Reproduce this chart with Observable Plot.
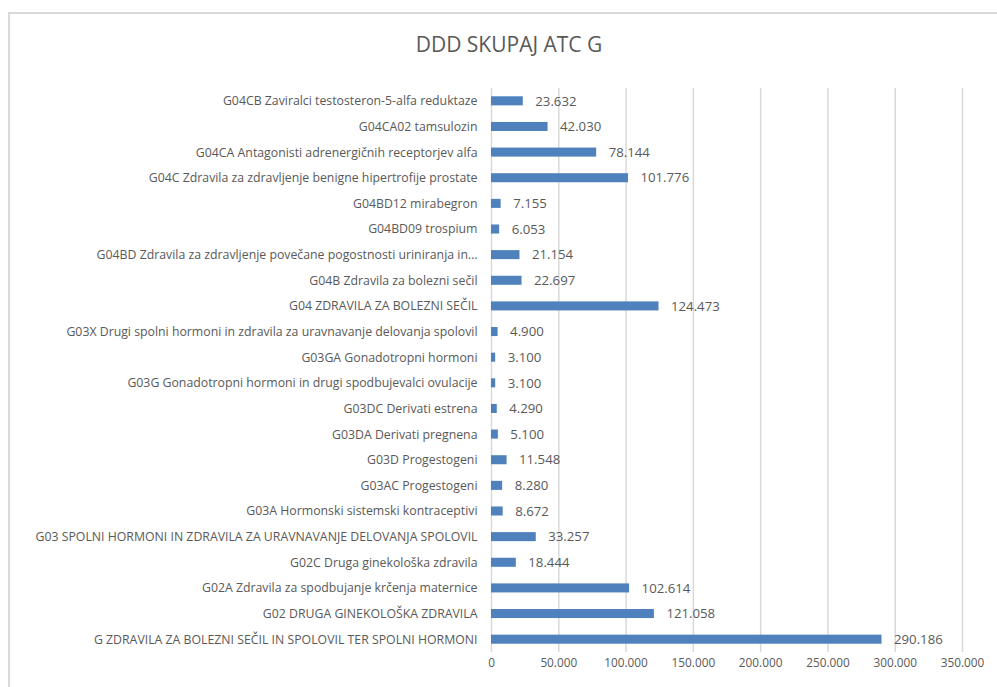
<!DOCTYPE html>
<html>
<head>
<meta charset="utf-8">
<script src="https://cdn.jsdelivr.net/npm/d3@7"></script>
<script src="https://cdn.jsdelivr.net/npm/@observablehq/plot@0.6"></script>
<style>
  html, body { margin: 0; padding: 0; background: #fff; overflow: hidden; width: 997px; height: 687px; }
  #frame { position: absolute; left: 8px; top: 12px; width: 1200px; height: 900px; border-top: 2px solid #d9d9d9; border-left: 2px solid #d9d9d9; }
  #title { position: absolute; left: 0; width: 1018px; top: 30px; text-align: center; font-family: "Open Sans", sans-serif; font-size: 21px; color: #595959; }
  #chart { position: absolute; left: 0; top: 70px; }
</style>
</head>
<body>
<div id="frame"></div>
<div id="title">DDD SKUPAJ ATC G</div>
<div id="chart"></div>
<script>
const categories = [
  "G04CB Zaviralci testosteron-5-alfa reduktaze",
  "G04CA02 tamsulozin",
  "G04CA Antagonisti adrenergičnih receptorjev alfa",
  "G04C Zdravila za zdravljenje benigne hipertrofije prostate",
  "G04BD12 mirabegron",
  "G04BD09 trospium",
  "G04BD Zdravila za zdravljenje povečane pogostnosti uriniranja in…",
  "G04B Zdravila za bolezni sečil",
  "G04 ZDRAVILA ZA BOLEZNI SEČIL",
  "G03X Drugi spolni hormoni in zdravila za uravnavanje delovanja spolovil",
  "G03GA Gonadotropni hormoni",
  "G03G Gonadotropni hormoni in drugi spodbujevalci ovulacije",
  "G03DC Derivati estrena",
  "G03DA Derivati pregnena",
  "G03D Progestogeni",
  "G03AC Progestogeni",
  "G03A Hormonski sistemski kontraceptivi",
  "G03 SPOLNI HORMONI IN ZDRAVILA ZA URAVNAVANJE DELOVANJA SPOLOVIL",
  "G02C Druga ginekološka zdravila",
  "G02A Zdravila za spodbujanje krčenja maternice",
  "G02 DRUGA GINEKOLOŠKA ZDRAVILA",
  "G ZDRAVILA ZA BOLEZNI SEČIL IN SPOLOVIL TER SPOLNI HORMONI"
];
const values = [
  23632, 42030, 78144, 101776, 7155, 6053, 21154, 22697, 124473, 4900, 3100,
  3100, 4290, 5100, 11548, 8280, 8672, 33257, 18444, 102614, 121058, 290186
];
const xTicks = [0, 50000, 100000, 150000, 200000, 250000, 300000, 350000];

const data = categories.map((c, i) => ({category: c, value: values[i]}));
const loc = d3.formatLocale({decimal: ",", thousands: ".", grouping: [3], currency: ["", ""]});
const fmt = loc.format(",");

const chart = Plot.plot({
  width: 997,
  height: 617,
  marginLeft: 491,
  marginRight: 35,
  marginTop: 18,
  marginBottom: 35,
  style: {fontFamily: "'Open Sans', sans-serif", color: "#595959", background: "transparent"},
  x: {domain: [0, 350000], ticks: xTicks, tickFormat: fmt, label: null},
  y: {domain: categories, padding: 0, round: false, label: null},
  marks: [
    Plot.ruleX(xTicks.slice(1), {stroke: "#d9d9d9", strokeWidth: 1.5}),
    Plot.ruleX([0], {stroke: "#d9d9d9", strokeWidth: 1.5}),
    Plot.barX(data, {x: "value", y: "category", fill: "#4f81bd", insetTop: 8.3, insetBottom: 8.3}),
    Plot.text(data, {x: "value", y: "category", text: d => fmt(d.value), textAnchor: "start", dx: 12, fontSize: 13.2, fill: "#595959"}),
    Plot.axisX({ticks: xTicks, tickFormat: fmt, tickSize: 0, tickPadding: 6, fontSize: 11.8, label: null, fill: "#595959"}),
    Plot.axisY({tickSize: 0, tickPadding: 14, fontSize: 12.3, label: null, fill: "#595959"})
  ]
});
document.getElementById("chart").appendChild(chart);
</script>
</body>
</html>
